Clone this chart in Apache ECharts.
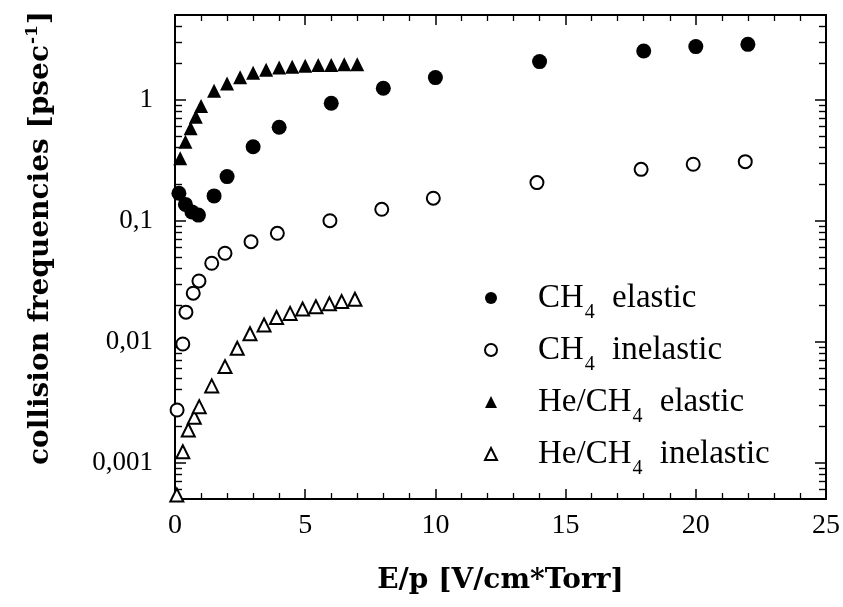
<!DOCTYPE html>
<html>
<head>
<meta charset="utf-8">
<script src="https://cdn.jsdelivr.net/npm/echarts@6/dist/echarts.min.js"></script>
<style>
  html, body { margin: 0; padding: 0; background: #fff; }
  #chart { width: 843px; height: 607px; }
</style>
</head>
<body>
<div id="chart"></div>
<script>
// CH4 elastic (filled circles)
const ch4ElX = [0.15, 0.4, 0.65, 0.9, 1.5, 2, 3, 4, 6, 8, 10, 14, 18, 20, 22]
const ch4ElY = [0.168, 0.136, 0.118, 0.111, 0.160, 0.231, 0.408, 0.590, 0.932, 1.24, 1.52, 2.06, 2.52, 2.74, 2.86]
// CH4 inelastic (open circles)
const ch4InX = [0.08, 0.3, 0.42, 0.7, 0.92, 1.41, 1.92, 2.92, 3.93, 5.95, 7.94, 9.92, 13.9, 17.9, 19.9, 21.9]
const ch4InY = [0.00272, 0.00955, 0.0175, 0.0251, 0.0317, 0.0444, 0.0537, 0.0669, 0.0785, 0.0998, 0.124, 0.153, 0.206, 0.265, 0.292, 0.307]
// He/CH4 elastic (filled triangles)
const heElX = [0.2, 0.4, 0.6, 0.8, 1.0, 1.5, 2, 2.5, 3, 3.5, 4, 4.5, 5, 5.5, 6, 6.5, 7]
const heElY = [0.327, 0.449, 0.579, 0.722, 0.885, 1.185, 1.36, 1.53, 1.67, 1.76, 1.84, 1.87, 1.90, 1.93, 1.93, 1.96, 1.96]
// He/CH4 inelastic (open triangles)
const heInX = [0.07, 0.3, 0.51, 0.74, 0.93, 1.41, 1.92, 2.39, 2.88, 3.42, 3.9, 4.42, 4.9, 5.41, 5.93, 6.4, 6.91]
const heInY = [0.00054, 0.00123, 0.00186, 0.00237, 0.00290, 0.00430, 0.00621, 0.00881, 0.0116, 0.0137, 0.0158, 0.0171, 0.0186, 0.0194, 0.0205, 0.0214, 0.0224]

// axis ticks
const yMajor = [0.001, 0.01, 0.1, 1]
const yMantissa = [2, 3, 4, 5, 6, 7, 8, 9]
const yDecades = [0.0001, 0.001, 0.01, 0.1, 1]

const yMinor = []
yDecades.forEach(d => {
  yMantissa.forEach(m => {
    const v = +(d * m).toPrecision(3)
    if (v > 0.0005 && v < 5) yMinor.push(v)
  })
})

const serif = 'Liberation Serif'
const titleFont = 'DejaVu Serif'

function pairs (xs, ys) {
  return xs.map((x, i) => [x, ys[i]])
}

const chart = echarts.init(document.getElementById('chart'))

const xBase = {
  type: 'value',
  min: 0,
  max: 25,
  interval: 5,
  splitLine: { show: false },
  axisLine: { show: true, onZero: false, lineStyle: { color: '#000', width: 2 } },
  axisTick: { show: true, inside: true, length: 10, lineStyle: { color: '#000', width: 1.5 } },
  minorTick: { show: true, splitNumber: 5, length: 6, lineStyle: { color: '#000', width: 1.3 } }
}

const yBase = {
  type: 'log',
  logBase: 10,
  min: 0.0005,
  max: 5,
  splitLine: { show: false },
  minorTick: { show: false },
  axisLine: { show: true, onZero: false, lineStyle: { color: '#000', width: 2 } }
}

const option = {
  backgroundColor: '#fff',
  animation: false,
  grid: { left: 175, right: 17, top: 15, bottom: 108 },
  xAxis: [
    Object.assign({}, xBase, {
      position: 'bottom',
      name: 'E/p [V/cm*Torr]',
      nameLocation: 'middle',
      nameGap: 68,
      nameTextStyle: { fontFamily: titleFont, fontWeight: 'bold', fontSize: 28, color: '#000' },
      axisLabel: { margin: 13, fontFamily: serif, fontSize: 28, color: '#000' }
    }),
    Object.assign({}, xBase, {
      position: 'top',
      axisLabel: { show: false }
    })
  ],
  yAxis: [
    Object.assign({}, yBase, {
      position: 'left',
      name: 'collision frequencies [psec{sup|-1}]',
      nameLocation: 'middle',
      nameGap: 118,
      nameTextStyle: {
        fontFamily: titleFont, fontWeight: 'bold', fontSize: 28, color: '#000',
        verticalAlign: 'bottom',
        padding: [0, 0, 0, 38],
        rich: {
          sup: { fontFamily: titleFont, fontWeight: 'bold', fontSize: 17, color: '#000', verticalAlign: 'top', padding: [0, 1, 16, 1] }
        }
      },
      axisTick: { show: true, inside: true, length: 11, customValues: yMajor, lineStyle: { color: '#000', width: 1.5 } },
      axisLabel: {
        margin: 22,
        customValues: yMajor,
        fontFamily: serif,
        fontSize: 27,
        color: '#000',
        formatter: v => String(v).replace('.', ',')
      }
    }),
    Object.assign({}, yBase, {
      position: 'left',
      axisTick: { show: true, inside: true, length: 7, customValues: yMinor, lineStyle: { color: '#000', width: 1.4 } },
      axisLabel: { show: false }
    }),
    Object.assign({}, yBase, {
      position: 'right',
      axisTick: { show: true, inside: true, length: 11, customValues: yMajor, lineStyle: { color: '#000', width: 1.5 } },
      axisLabel: { show: false }
    }),
    Object.assign({}, yBase, {
      position: 'right',
      axisTick: { show: true, inside: true, length: 7, customValues: yMinor, lineStyle: { color: '#000', width: 1.4 } },
      axisLabel: { show: false }
    })
  ],
  legend: {
    orient: 'vertical',
    left: 479,
    top: 268,
    itemGap: 2,
    itemWidth: 12,
    itemHeight: 12,
    textStyle: {
      fontFamily: serif,
      fontSize: 33,
      color: '#000',
      padding: [0, 0, 0, 36],
      rich: {
        m: { fontFamily: serif, fontSize: 33, color: '#000', verticalAlign: 'middle', lineHeight: 36 },
        sub: { fontFamily: serif, fontSize: 20, color: '#000', verticalAlign: 'middle', lineHeight: 22, padding: [30, 9, 0, 1] }
      }
    },
    formatter: name => {
      const parts = name.split('CH4')
      return '{m|' + parts[0] + 'CH}{sub|4}{m|' + parts[1] + '}'
    },
    data: ['CH4 elastic', 'CH4 inelastic', 'He/CH4 elastic', 'He/CH4 inelastic']
  },
  series: [
    {
      name: 'CH4 elastic',
      type: 'scatter',
      symbol: 'circle',
      symbolSize: 15,
      itemStyle: { color: '#000', opacity: 1 },
      data: pairs(ch4ElX, ch4ElY)
    },
    {
      name: 'CH4 inelastic',
      type: 'scatter',
      symbol: 'circle',
      symbolSize: 13,
      itemStyle: { color: '#fff', borderColor: '#000', borderWidth: 2, opacity: 1 },
      data: pairs(ch4InX, ch4InY)
    },
    {
      name: 'He/CH4 elastic',
      type: 'scatter',
      symbol: 'triangle',
      symbolSize: 14,
      itemStyle: { color: '#000', opacity: 1 },
      data: pairs(heElX, heElY)
    },
    {
      name: 'He/CH4 inelastic',
      type: 'scatter',
      symbol: 'triangle',
      symbolSize: 13,
      itemStyle: { color: '#fff', borderColor: '#000', borderWidth: 2, opacity: 1 },
      data: pairs(heInX, heInY)
    }
  ]
}

chart.setOption(option)
</script>
</body>
</html>
